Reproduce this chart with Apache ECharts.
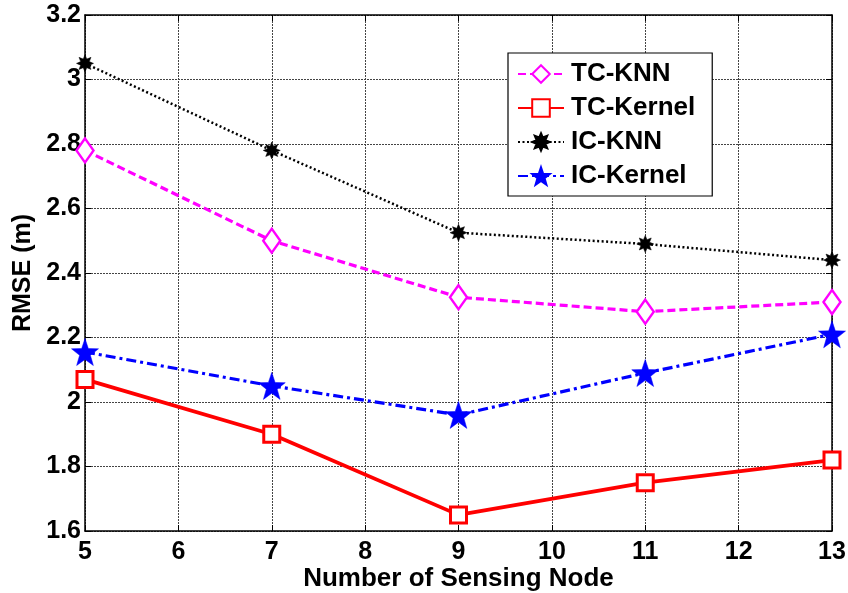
<!DOCTYPE html>
<html><head><meta charset="utf-8">
<script src="https://cdn.jsdelivr.net/npm/echarts@6/dist/echarts.min.js"></script>
<style>html,body{margin:0;padding:0;background:#fff}#c{width:848px;height:593px}</style>
</head><body><div id="c"></div>
<script>
const xValues = [5, 7, 9, 11, 13];
const tcKnn = [2.78, 2.50, 2.325, 2.28, 2.31];
const tcKernel = [2.07, 1.90, 1.65, 1.75, 1.82];
const icKnn = [3.05, 2.78, 2.525, 2.49, 2.44];
const icKernel = [2.155, 2.05, 1.96, 2.09, 2.21];
const seriesNames = ['TC-KNN', 'TC-Kernel', 'IC-KNN', 'IC-Kernel'];

function starPath(n, rIn) {
  let p = '';
  for (let k = 0; k < 2 * n; k++) {
    const r = k % 2 === 0 ? 1 : rIn;
    const a = -Math.PI / 2 + k * Math.PI / n;
    const x = (r * Math.cos(a) + 1) * 50, y = (r * Math.sin(a) + 1) * 50;
    p += (k === 0 ? 'M' : 'L') + x.toFixed(2) + ' ' + y.toFixed(2) + ' ';
  }
  return 'path://' + p + 'Z';
}
const asterisk = starPath(8, 0.55);
const star5 = starPath(5, 0.4);

function pairs(arr) { return xValues.map((x, i) => [x, arr[i]]); }
const font = 'Arial, "Liberation Sans", sans-serif';
const chart = echarts.init(document.getElementById('c'));
const axisLine = { show: true, lineStyle: { color: '#000', width: 1.5 } };
const split = { show: true, lineStyle: { color: '#444', width: 1, type: [2, 1] } };
const tick = { show: true, inside: true, length: 6, lineStyle: { color: '#000' } };
chart.setOption({
  animation: false,
  grid: { left: 85, right: 16, top: 15, bottom: 62, containLabel: false, outerBoundsMode: 'none' },
  xAxis: [{
    type: 'value', min: 5, max: 13, interval: 1,
    name: 'Number of Sensing Node', nameLocation: 'middle', nameGap: 35, nameMoveOverlap: false,
    nameTextStyle: { fontFamily: font, fontWeight: 'bold', fontSize: 26, color: '#000' },
    axisLine, axisTick: tick,
    axisLabel: { fontFamily: font, fontWeight: 'bold', fontSize: 25, color: '#000', margin: 9 },
    splitLine: split
  }, {
    type: 'value', min: 5, max: 13, interval: 1, position: 'top',
    axisLine, axisTick: tick, axisLabel: { show: false }, splitLine: { show: false }
  }],
  yAxis: [{
    type: 'value', min: 1.6, max: 3.2, interval: 0.2,
    name: 'RMSE (m)', nameLocation: 'middle', nameGap: 47,
    nameTextStyle: { fontFamily: font, fontWeight: 'bold', fontSize: 25, color: '#000' },
    axisLine, axisTick: tick,
    axisLabel: { fontFamily: font, fontWeight: 'bold', fontSize: 25, color: '#000', margin: 4 },
    splitLine: split
  }, {
    type: 'value', min: 1.6, max: 3.2, interval: 0.2, position: 'right',
    axisLine, axisTick: tick, axisLabel: { show: false }, splitLine: { show: false }
  }],
  legend: {
    orient: 'vertical', left: 508, top: 53,
    backgroundColor: '#fff', borderColor: '#000', borderWidth: 1.2, borderRadius: 0,
    padding: [8, 17, 7, 9], itemGap: 8, itemWidth: 46, itemHeight: 22,
    textStyle: { fontFamily: font, fontWeight: 'bold', fontSize: 26, color: '#000', padding: [0, 0, 0, 2] },
    data: seriesNames
  },
  series: [
    { name: seriesNames[0], type: 'line', data: pairs(tcKnn), z: 3,
      symbol: 'diamond', symbolSize: [17, 24],
      lineStyle: { color: '#ff00ff', width: 3.2, type: [8, 4] },
      itemStyle: { color: '#fff', borderColor: '#ff00ff', borderWidth: 2.5 } },
    { name: seriesNames[1], type: 'line', data: pairs(tcKernel), z: 3,
      symbol: 'rect', symbolSize: 16,
      lineStyle: { color: '#ff0000', width: 3.8, type: 'solid' },
      itemStyle: { color: '#fff', borderColor: '#ff0000', borderWidth: 3 } },
    { name: seriesNames[2], type: 'line', data: pairs(icKnn), z: 3,
      symbol: asterisk, symbolSize: 17,
      lineStyle: { color: '#000', width: 2.5, type: [2, 2.5] },
      itemStyle: { color: '#000', borderColor: '#000', borderWidth: 0.5 } },
    { name: seriesNames[3], type: 'line', data: pairs(icKernel), z: 3,
      symbol: star5, symbolSize: 27,
      lineStyle: { color: '#0000ff', width: 3.2, type: [10, 4, 3, 4] },
      itemStyle: { color: '#0000ff', borderColor: '#0000ff', borderWidth: 0.5 } }
  ]
});
</script></body></html>
